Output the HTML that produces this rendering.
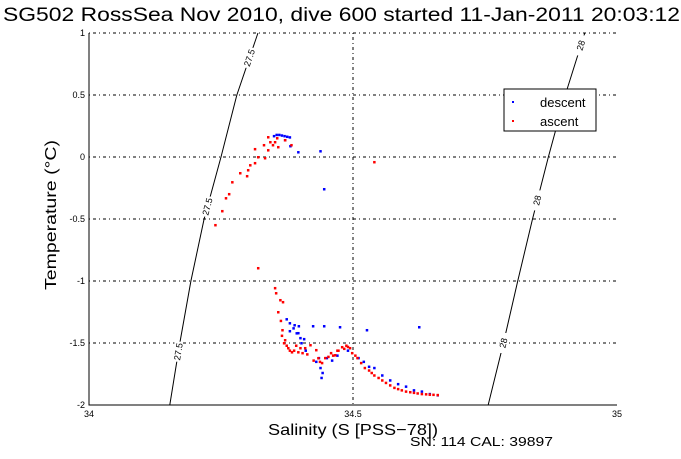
<!DOCTYPE html>
<html><head><meta charset="utf-8"><style>
body{margin:0;background:#fff;width:681px;height:454px;overflow:hidden}
svg text{font-family:"Liberation Sans",sans-serif}
</style></head><body>
<svg id="c" width="681" height="454" xmlns="http://www.w3.org/2000/svg">
<text x="3" y="21" font-size="19" textLength="677" lengthAdjust="spacingAndGlyphs">SG502 RossSea Nov 2010, dive 600 started 11-Jan-2011 20:03:12</text>
<text x="268" y="435" font-size="16" textLength="170" lengthAdjust="spacingAndGlyphs">Salinity (S [PSS−78])</text>
<text x="410" y="446" font-size="13" textLength="143" lengthAdjust="spacingAndGlyphs">SN: 114  CAL: 39897</text>
<text transform="translate(56,290) rotate(-90)" font-size="16" textLength="150" lengthAdjust="spacingAndGlyphs">Temperature (°C)</text>
<g id="grid"></g><g id="axes"></g><g id="contours"></g><g id="pts"></g>
<g>
<rect x="504" y="89" width="92" height="42" fill="#fff" stroke="#000" stroke-width="1"/>
<rect x="512" y="101" width="2" height="2" fill="#00f"/>
<text x="540" y="107" font-size="13">descent</text>
<rect x="512" y="120" width="2" height="2" fill="#f00"/>
<text x="540" y="126" font-size="13">ascent</text>
</g>
</svg>
<script>
const xTicks=[34,34.5,35];
const xTickLabels=["34","34.5","35"];
const yTicks=[-2,-1.5,-1,-0.5,0,0.5,1];
const yTickLabels=["-2","-1.5","-1","-0.5","0","0.5","1"];
const ascentS=[34.239,34.252,34.259,34.265,34.271,34.286,34.299,34.305,34.301,34.314,34.320,34.314,34.331,34.333,34.339,34.339,34.343,34.348,34.352,34.356,34.358,34.371,34.383,34.320,34.352,34.354,34.362,34.367,34.358,34.366,34.371,34.377,34.384,34.396,34.409,34.419,34.430,34.434,34.441,34.453,34.466,34.472,34.479,34.487,34.494,34.504,34.515,34.530,34.540,34.555,34.570,34.585,34.600,34.615,34.630,34.645,34.660,34.540,
34.374,34.380,34.388,34.392,34.400,34.404,34.413,34.425,34.437,34.447,34.458,34.462,34.470,34.483,34.490,34.498,34.508,34.522,34.535,34.548,34.562,34.578,34.592,34.608,34.622,34.638,34.652,34.365,34.369,34.363];
const ascentT=[-0.548,-0.435,-0.331,-0.298,-0.202,-0.129,-0.153,-0.065,-0.105,-0.048,0,0.065,0.097,-0.008,0.056,0.161,0.121,0.097,0.121,0.153,0.081,0.137,0.097,-0.895,-1.056,-1.097,-1.153,-1.169,-1.25,-1.395,-1.476,-1.540,-1.573,-1.573,-1.540,-1.516,-1.556,-1.621,-1.660,-1.610,-1.597,-1.560,-1.532,-1.520,-1.540,-1.600,-1.660,-1.720,-1.760,-1.800,-1.840,-1.870,-1.890,-1.900,-1.910,-1.915,-1.918,-0.040,
-1.520,-1.560,-1.560,-1.520,-1.540,-1.580,-1.590,-1.640,-1.650,-1.620,-1.580,-1.600,-1.560,-1.545,-1.530,-1.580,-1.620,-1.700,-1.740,-1.780,-1.820,-1.860,-1.880,-1.895,-1.905,-1.912,-1.916,-1.440,-1.500,-1.320];
const descentS=[34.350,34.355,34.360,34.365,34.370,34.375,34.380,34.371,34.381,34.396,34.438,34.445,34.374,34.380,34.389,34.397,34.424,34.445,34.475,34.526,34.625,34.380,34.396,34.400,34.407,34.435,34.438,34.442,34.440,34.460,34.470,34.520,34.540,34.570,34.600,34.630,34.660,
34.387,34.393,34.402,34.410,34.430,34.450,34.490,34.510,34.530,34.555,34.585,34.615,34.645];
const descentT=[0.17,0.18,0.18,0.175,0.17,0.165,0.16,0.137,0.089,0.040,0.048,-0.258,-1.307,-1.339,-1.355,-1.363,-1.363,-1.363,-1.371,-1.395,-1.371,-1.403,-1.419,-1.459,-1.467,-1.620,-1.700,-1.740,-1.780,-1.640,-1.600,-1.650,-1.700,-1.800,-1.850,-1.890,-1.920,
-1.380,-1.420,-1.500,-1.560,-1.650,-1.620,-1.560,-1.620,-1.690,-1.760,-1.830,-1.880,-1.910];
const contour275S=[34.153,34.172,34.193,34.218,34.250,34.280,34.320];
const contour275T=[-2,-1.5,-1,-0.5,0,0.5,1];
const contour28S=[34.756,34.785,34.812,34.840,34.870,34.902,34.939];
const contour28T=[-2,-1.5,-1,-0.5,0,0.5,1];
const NS="http://www.w3.org/2000/svg";
const X0=89,X1=617,Y0=405,Y1=33;
const sx=s=>X0+(s-34)*(X1-X0);
const sy=t=>Y0-(t+2)/3*(Y0-Y1);
function mk(tag,attrs,parent){const e=document.createElementNS(NS,tag);for(const k in attrs)e.setAttribute(k,attrs[k]);document.getElementById(parent).appendChild(e);return e;}
yTicks.forEach((t,i)=>{
 if(t>-2){const g=mk('line',{x1:X0,x2:X1,y1:sy(t),y2:sy(t),stroke:'#000','stroke-dasharray':'1,3,3,3','stroke-width':1},'grid');
 
 }
 const tk=mk('text',{x:X0-4,y:sy(t)+3,'font-size':9,'text-anchor':'end'},'axes');tk.textContent=yTickLabels[i];
 
 
});
xTicks.forEach((s,i)=>{
 if(s>34&&s<35){const g=mk('line',{x1:sx(s),x2:sx(s),y1:Y1,y2:Y0,stroke:'#000','stroke-dasharray':'1,3,3,3'},'grid');
 
 }
 const tk=mk('text',{x:sx(s),y:Y0+12,'font-size':9,'text-anchor':'middle'},'axes');tk.textContent=xTickLabels[i];
 
 
});
const ax=mk('path',{d:`M${X0},${Y1}V${Y0}H${X1}`,fill:'none',stroke:'#000'},'axes');


function contour(S,T,label,name,labT){
 const d=S.map((s,i)=>(i?'L':'M')+sx(s)+','+sy(T[i])).join('');
 const p=mk('path',{d:d,fill:'none',stroke:'#000','stroke-width':1},'contours');
 
 
 labT.forEach(t=>{
  let k=0;while(k<T.length-2&&T[k+1]<t)k++;
  const f=(t-T[k])/(T[k+1]-T[k]);const s=S[k]+f*(S[k+1]-S[k]);
  const ang=Math.atan2(sy(T[k+1])-sy(T[k]),sx(S[k+1])-sx(S[k]))*180/Math.PI;
  const x=sx(s),y=sy(t);
  mk('rect',{x:x-4,y:y-10,width:8,height:20,fill:'#fff'},'contours');
  const tx=mk('text',{transform:`translate(${x},${y}) rotate(${ang})`,'font-size':9,'text-anchor':'middle',y:3},'contours');
  tx.textContent=label;
  
  
 });
}
contour(contour275S,contour275T,'27.5','contour-27-5',[0.8,-0.4,-1.57]);
contour(contour28S,contour28T,'28','contour-28',[0.9,-0.35,-1.5]);
function pts(S,T,col,name){S.forEach((s,i)=>{
 const r=mk('rect',{x:sx(s)-1,y:sy(T[i])-1,width:2.5,height:2.5,fill:col},'pts');
 
 
});}
pts(descentS,descentT,'#00f','descent-point');
pts(ascentS,ascentT,'#f00','ascent-point');
</script>
</body></html>
